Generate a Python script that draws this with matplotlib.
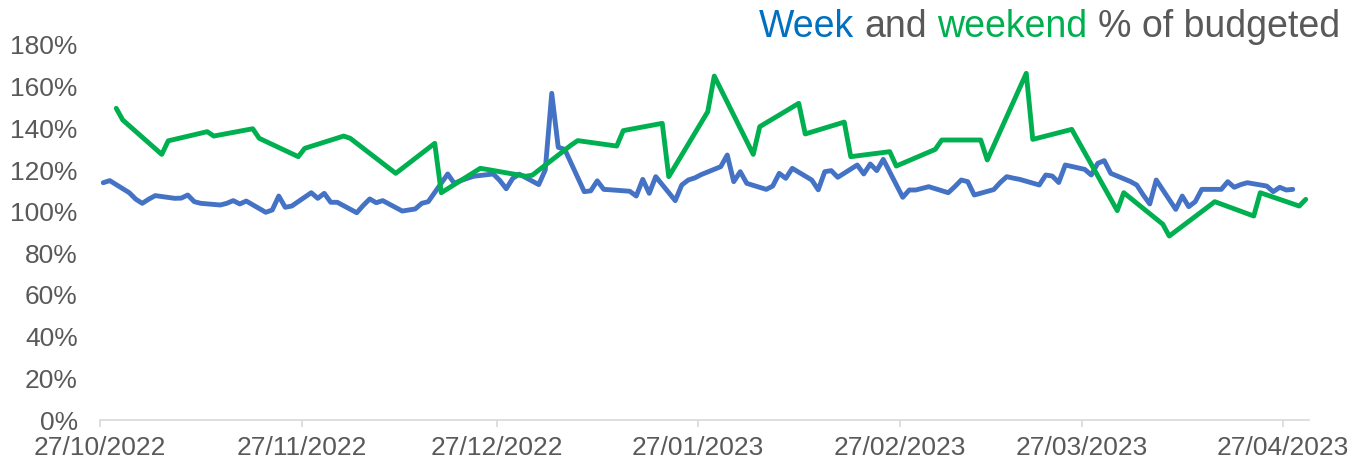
import matplotlib
matplotlib.use("Agg")
import matplotlib.pyplot as plt
import pandas as pd

# ---- data ----
week_dates = [
    "27/10/2022", "28/10/2022", "31/10/2022", "01/11/2022", "02/11/2022", "03/11/2022", "04/11/2022",
    "07/11/2022", "08/11/2022", "09/11/2022", "10/11/2022", "11/11/2022",
    "14/11/2022", "15/11/2022", "16/11/2022", "17/11/2022", "18/11/2022",
    "21/11/2022", "22/11/2022", "23/11/2022", "24/11/2022", "25/11/2022",
    "28/11/2022", "29/11/2022", "30/11/2022", "01/12/2022", "02/12/2022",
    "05/12/2022", "06/12/2022", "07/12/2022", "08/12/2022", "09/12/2022",
    "12/12/2022", "13/12/2022", "14/12/2022", "15/12/2022", "16/12/2022",
    "19/12/2022", "20/12/2022", "21/12/2022", "22/12/2022", "23/12/2022",
    "26/12/2022", "27/12/2022", "28/12/2022", "29/12/2022", "30/12/2022",
    "02/01/2023", "03/01/2023", "04/01/2023", "05/01/2023", "06/01/2023",
    "09/01/2023", "10/01/2023", "11/01/2023", "12/01/2023", "13/01/2023",
    "16/01/2023", "17/01/2023", "18/01/2023", "19/01/2023", "20/01/2023",
    "23/01/2023", "24/01/2023", "25/01/2023", "26/01/2023", "27/01/2023",
    "30/01/2023", "31/01/2023", "01/02/2023", "02/02/2023", "03/02/2023",
    "06/02/2023", "07/02/2023", "08/02/2023", "09/02/2023", "10/02/2023",
    "13/02/2023", "14/02/2023", "15/02/2023", "16/02/2023", "17/02/2023",
    "20/02/2023", "21/02/2023", "22/02/2023", "23/02/2023", "24/02/2023",
    "27/02/2023", "28/02/2023", "01/03/2023", "02/03/2023", "03/03/2023",
    "06/03/2023", "07/03/2023", "08/03/2023", "09/03/2023", "10/03/2023",
    "13/03/2023", "14/03/2023", "15/03/2023", "16/03/2023", "17/03/2023",
    "20/03/2023", "21/03/2023", "22/03/2023", "23/03/2023", "24/03/2023",
    "27/03/2023", "28/03/2023", "29/03/2023", "30/03/2023", "31/03/2023",
    "03/04/2023", "04/04/2023", "05/04/2023", "06/04/2023", "07/04/2023",
    "10/04/2023", "11/04/2023", "12/04/2023", "13/04/2023", "14/04/2023",
    "17/04/2023", "18/04/2023", "19/04/2023", "20/04/2023", "21/04/2023",
    "24/04/2023", "25/04/2023", "26/04/2023", "27/04/2023", "28/04/2023",
]
week_pct = [
    113.9, 114.9, 109.1, 106.0, 104.0, 106.0, 107.7,
    106.4, 106.5, 108.0, 104.8, 104.0,
    103.2, 104.0, 105.3, 103.7, 105.1,
    99.7, 100.8, 107.5, 102.1, 102.7,
    109.1, 106.4, 108.8, 104.5, 104.5,
    99.5, 103.0, 106.1, 104.3, 105.3,
    100.3, 100.8, 101.3, 104.0, 104.8,
    118.1, 113.6, 114.9, 116.0, 117.0,
    118.1, 115.0, 111.0, 116.0, 118.0,
    113.0, 120.0, 156.8, 130.9, 129.9,
    109.6, 110.0, 114.8, 110.7, 110.5,
    109.8, 107.5, 115.5, 108.8, 116.8,
    105.3, 112.8, 115.2, 116.2, 117.8,
    121.6, 127.2, 114.4, 119.2, 113.6,
    110.7, 112.3, 118.4, 116.0, 120.8,
    115.2, 110.5, 119.2, 119.7, 116.5,
    122.4, 118.1, 122.9, 119.7, 125.1,
    106.9, 110.4, 110.4, 111.2, 112.0,
    109.1, 112.0, 115.2, 114.4, 108.0,
    110.6, 114.0, 116.8, 116.1, 115.5,
    112.8, 117.6, 117.1, 114.0, 122.4,
    120.3, 117.6, 123.2, 124.5, 118.4,
    114.5, 112.8, 108.0, 103.7, 115.2,
    101.1, 107.5, 102.4, 104.8, 110.7,
    110.7, 114.4, 111.7, 113.0, 113.9,
    112.3, 109.6, 111.7, 110.4, 110.7,
]

weekend_dates = [
    "29/10/2022", "30/10/2022", "05/11/2022", "06/11/2022", "12/11/2022", "13/11/2022",
    "19/11/2022", "20/11/2022", "26/11/2022", "27/11/2022", "03/12/2022", "04/12/2022",
    "10/12/2022", "11/12/2022", "17/12/2022", "18/12/2022", "24/12/2022", "25/12/2022",
    "31/12/2022", "01/01/2023", "07/01/2023", "08/01/2023", "14/01/2023", "15/01/2023",
    "21/01/2023", "22/01/2023", "28/01/2023", "29/01/2023", "04/02/2023", "05/02/2023",
    "11/02/2023", "12/02/2023", "18/02/2023", "19/02/2023", "25/02/2023", "26/02/2023",
    "04/03/2023", "05/03/2023", "11/03/2023", "12/03/2023", "18/03/2023", "19/03/2023",
    "25/03/2023", "26/03/2023", "01/04/2023", "02/04/2023", "08/04/2023", "09/04/2023",
    "15/04/2023", "16/04/2023", "22/04/2023", "23/04/2023", "29/04/2023", "30/04/2023",
]
weekend_pct = [
    149.6, 144.0, 127.5, 134.0, 138.4, 136.3,
    139.8, 135.2, 126.4, 130.4, 136.3, 135.2,
    120.8, 118.4, 132.8, 109.1, 120.8, 120.3,
    117.0, 117.5, 132.0, 134.1, 131.5, 138.9,
    142.4, 116.8, 148.0, 165.1, 127.5, 140.8,
    152.0, 137.3, 143.0, 126.4, 128.8, 121.9,
    129.9, 134.4, 134.4, 124.8, 166.4, 134.7,
    139.5, 133.9, 100.5, 109.1, 94.0, 88.3,
    102.4, 104.8, 97.9, 109.1, 102.7, 105.9,
]

tick_labels = ["27/10/2022", "27/11/2022", "27/12/2022", "27/01/2023",
               "27/02/2023", "27/03/2023", "27/04/2023"]
y_ticks = [0, 20, 40, 60, 80, 100, 120, 140, 160, 180]

# ---- styling ----
plt.rcParams['font.family'] = ['Liberation Sans', 'DejaVu Sans']
BLUE = '#4472C4'
GREEN = '#00B050'
GRAY = '#595959'

W, H = 1353, 465
fig = plt.figure(figsize=(W / 100, H / 100), dpi=100)
ax = fig.add_axes([100 / W, 45 / H, 1209 / W, 375 / H])

half_day = pd.Timedelta(hours=12)
wd = pd.to_datetime(week_dates, format="%d/%m/%Y") + half_day
we = pd.to_datetime(weekend_dates, format="%d/%m/%Y") + half_day

ax.plot(wd, week_pct, color=BLUE, lw=3.5, solid_joinstyle='round',
        solid_capstyle='round', zorder=3)
ax.plot(we, weekend_pct, color=GREEN, lw=3.5, solid_joinstyle='round',
        solid_capstyle='round', zorder=4)

ax.set_ylim(0, 180)
ax.set_xlim(pd.Timestamp("2022-10-27"), pd.Timestamp("2023-05-01"))
ax.set_yticks(y_ticks)
ax.set_yticklabels([f"{v}%" for v in y_ticks])
ax.set_xticks(pd.to_datetime(tick_labels, format="%d/%m/%Y"))
ax.set_xticklabels(tick_labels)

for s in ['top', 'right', 'left']:
    ax.spines[s].set_visible(False)
ax.spines['bottom'].set_color('#D9D9D9')
ax.spines['bottom'].set_linewidth(1.2)

ax.tick_params(axis='y', length=0, pad=16, labelsize=19, labelcolor=GRAY)
ax.tick_params(axis='x', length=5, width=1.2, color='#D9D9D9', pad=6.5,
               labelsize=19, labelcolor=GRAY)

# ---- multi-coloured title ----
fig.canvas.draw()
renderer = fig.canvas.get_renderer()
TFS = 27

def text_width(s):
    t1 = fig.text(0, 0, "|" + s + "|", fontsize=TFS)
    w1 = t1.get_window_extent(renderer).width
    t1.remove()
    t2 = fig.text(0, 0, "||", fontsize=TFS)
    w2 = t2.get_window_extent(renderer).width
    t2.remove()
    return w1 - w2

pieces = [("Week", "#0070C0"), ("and", GRAY), ("weekend", GREEN), ("% of budgeted", GRAY)]
full = " ".join(p for p, _ in pieces)
total = text_width(full)
right_px = 1340
start = right_px - total
baseline = (H - 37) / H
prefix = ""
for word, col in pieces:
    x = start + (text_width(prefix) if prefix else 0)
    fig.text(x / W, baseline, word, fontsize=TFS, color=col, ha='left', va='baseline')
    prefix += word + " "

fig.savefig("out.png", dpi=100)
